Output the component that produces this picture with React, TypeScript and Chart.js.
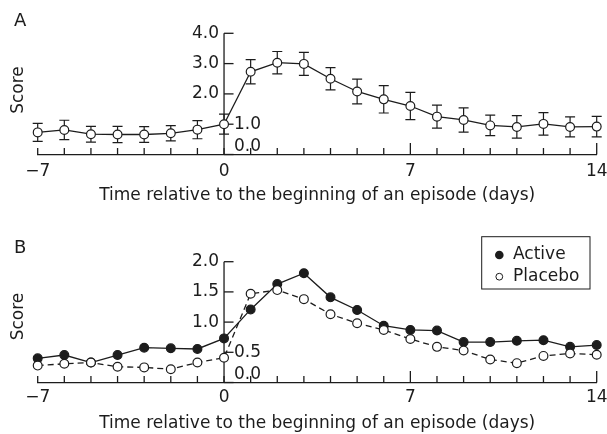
import React, { useEffect, useRef } from "react";
import { Chart, registerables } from "chart.js";

Chart.register(...registerables);

// ---- data ----
const days = [-7, -6, -5, -4, -3, -2, -1, 0, 1, 2, 3, 4, 5, 6, 7, 8, 9, 10, 11, 12, 13, 14];
const scoreA = [0.73, 0.81, 0.67, 0.66, 0.66, 0.7, 0.82, 1.0, 2.73, 3.03, 2.99, 2.5, 2.08, 1.82, 1.6, 1.25, 1.14, 0.96, 0.91, 1.01, 0.91, 0.92];
const errorA = [0.3, 0.32, 0.26, 0.27, 0.26, 0.25, 0.3, 0.33, 0.4, 0.37, 0.38, 0.37, 0.41, 0.45, 0.45, 0.38, 0.4, 0.34, 0.37, 0.37, 0.33, 0.34];
const activeB = [0.4, 0.455, 0.33, 0.455, 0.576, 0.566, 0.555, 0.73, 1.21, 1.63, 1.81, 1.41, 1.2, 0.94, 0.87, 0.86, 0.67, 0.67, 0.69, 0.7, 0.59, 0.62];
const placeboB = [0.28, 0.31, 0.33, 0.26, 0.25, 0.22, 0.33, 0.41, 1.47, 1.53, 1.38, 1.13, 0.98, 0.87, 0.72, 0.59, 0.53, 0.38, 0.32, 0.44, 0.48, 0.46];
const yTicksA = [0, 1, 2, 3, 4];
const yTicksB = [0, 0.5, 1, 1.5, 2];
const xLabelDays = [-7, 0, 7, 14];
const xMajorTickDays = [7, 14];
const xTitle = "Time relative to the beginning of an episode (days)";
const yTitle = "Score";
const seriesNames = ["Active", "Placebo"];

const FONT = '"DejaVu Sans", sans-serif';
const INK = "#1c1c1c";

type PanelCfg = {
  letter: string;
  yMax: number;
  yTicks: number[];
  rightLabelMax: number;
  padTop: number;
  axisHeight: number;
  tickPad: number;
  titleBottom: number;
  scoreY: number;
  letterY: number;
  legend: boolean;
  errors?: number[];
};

function fmtDay(v: number) {
  return v < 0 ? "\u2212" + Math.abs(v) : String(v);
}

function makeDecor(cfg: PanelCfg) {
  return {
    id: "decor" + cfg.letter,
    beforeDatasetsDraw(chart: any) {
      const ctx = chart.ctx;
      const xs = chart.scales.x;
      const ys = chart.scales.y;
      const x0 = xs.getPixelForValue(0);
      const yBottom = ys.getPixelForValue(0);
      ctx.save();
      ctx.strokeStyle = INK;
      ctx.lineWidth = 1.3;
      // y axis line
      ctx.beginPath();
      ctx.moveTo(x0, ys.getPixelForValue(cfg.yMax));
      ctx.lineTo(x0, yBottom);
      ctx.stroke();
      // y ticks
      for (const t of cfg.yTicks) {
        const y = ys.getPixelForValue(t);
        ctx.beginPath();
        ctx.moveTo(x0, y);
        ctx.lineTo(x0 + 9.5, y);
        ctx.stroke();
      }
      // x tick marks (upward)
      for (const d of days) {
        const x = xs.getPixelForValue(d);
        const len = xMajorTickDays.includes(d) ? 11.5 : 6.5;
        ctx.beginPath();
        ctx.moveTo(x, yBottom);
        ctx.lineTo(x, yBottom - len);
        ctx.stroke();
      }
      // error bars
      if (cfg.errors) {
        ctx.lineWidth = 1.2;
        const vals = chart.data.datasets[0].data as number[];
        vals.forEach((v: number, i: number) => {
          const x = xs.getPixelForValue(days[i]);
          const yt = ys.getPixelForValue(v + cfg.errors![i]);
          const yb = ys.getPixelForValue(v - cfg.errors![i]);
          ctx.beginPath();
          ctx.moveTo(x, yt);
          ctx.lineTo(x, yb);
          ctx.moveTo(x - 5, yt);
          ctx.lineTo(x + 5, yt);
          ctx.moveTo(x - 5, yb);
          ctx.lineTo(x + 5, yb);
          ctx.stroke();
        });
      }
      ctx.restore();
    },
    afterDraw(chart: any) {
      const ctx = chart.ctx;
      const xs = chart.scales.x;
      const ys = chart.scales.y;
      const x0 = xs.getPixelForValue(0);
      ctx.save();
      ctx.fillStyle = INK;
      ctx.font = "17px " + FONT;
      ctx.textBaseline = "middle";
      for (const t of cfg.yTicks) {
        let y = ys.getPixelForValue(t);
        const label = t.toFixed(1);
        if (t <= cfg.rightLabelMax) {
          if (t === 0) y -= 8;
          ctx.textAlign = "left";
          ctx.fillText(label, x0 + 10, y);
        } else {
          ctx.textAlign = "right";
          ctx.fillText(label, x0 - 5, y);
        }
      }
      // panel letter
      ctx.textAlign = "left";
      ctx.font = "18px " + FONT;
      ctx.fillText(cfg.letter, 14, cfg.letterY);
      // y title
      ctx.font = "17px " + FONT;
      ctx.save();
      ctx.translate(19, cfg.scoreY);
      ctx.rotate(-Math.PI / 2);
      ctx.textAlign = "center";
      ctx.fillText(yTitle, 0, 0);
      ctx.restore();
      // legend
      if (cfg.legend) {
        ctx.lineWidth = 1;
        ctx.strokeStyle = INK;
        ctx.strokeRect(481.7, 19.7, 108.3, 52.3);
        ctx.beginPath();
        ctx.arc(499.3, 38, 4.3, 0, Math.PI * 2);
        ctx.fill();
        ctx.beginPath();
        ctx.arc(499.3, 59.7, 3.4, 0, Math.PI * 2);
        ctx.fillStyle = "#fff";
        ctx.fill();
        ctx.stroke();
        ctx.fillStyle = INK;
        ctx.textAlign = "left";
        ctx.fillText(seriesNames[0], 513, 38);
        ctx.fillText(seriesNames[1], 513, 59.7);
      }
      ctx.restore();
    },
  };
}

function buildChart(canvas: HTMLCanvasElement, cfg: PanelCfg, datasets: any[]) {
  return new Chart(canvas, {
    type: "line",
    data: { labels: days, datasets },
    options: {
      animation: false,
      responsive: true,
      maintainAspectRatio: false,
      layout: { padding: { top: cfg.padTop, left: 37.7, right: 10.3, bottom: 0 } },
      plugins: { legend: { display: false }, tooltip: { enabled: false } },
      scales: {
        x: {
          type: "linear",
          min: -7,
          max: 14,
          grid: { display: false, drawTicks: false },
          border: { display: true, color: INK, width: 1.3 },
          ticks: {
            stepSize: 1,
            autoSkip: false,
            maxRotation: 0,
            padding: cfg.tickPad,
            color: INK,
            font: { family: FONT, size: 17 },
            callback: (v: any) => (xLabelDays.includes(Number(v)) ? fmtDay(Number(v)) : ""),
          },
          title: {
            display: true,
            text: xTitle,
            color: INK,
            font: { family: FONT, size: 17 },
            padding: { top: 0, bottom: cfg.titleBottom },
          },
          afterFit: (s: any) => {
            s.height = cfg.axisHeight;
            s.paddingLeft = 0;
            s.paddingRight = 0;
          },
        },
        y: { display: false, min: 0, max: cfg.yMax },
      },
    },
    plugins: [makeDecor(cfg)],
  } as any);
}

const cfgA: PanelCfg = {
  letter: "A",
  yMax: 4,
  yTicks: yTicksA,
  rightLabelMax: 1,
  padTop: 33.3,
  axisHeight: 62.5,
  tickPad: 7,
  titleBottom: 11.6,
  scoreY: 90,
  letterY: 21.7,
  legend: false,
  errors: errorA,
};

const cfgB: PanelCfg = {
  letter: "B",
  yMax: 2,
  yTicks: yTicksB,
  rightLabelMax: 0.5,
  padTop: 44.7,
  axisHeight: 51.5,
  tickPad: 5,
  titleBottom: 0.5,
  scoreY: 99.5,
  letterY: 31,
  legend: true,
};

const lineBase = {
  borderColor: INK,
  borderWidth: 1.3,
  pointRadius: 4.4,
  pointBorderColor: INK,
  pointBorderWidth: 1.2,
  tension: 0,
  clip: false,
};

export default function App() {
  const refA = useRef<HTMLCanvasElement>(null);
  const refB = useRef<HTMLCanvasElement>(null);
  useEffect(() => {
    const a = buildChart(refA.current!, cfgA, [
      { ...lineBase, label: yTitle, data: scoreA, pointBackgroundColor: "#fff" },
    ]);
    const b = buildChart(refB.current!, cfgB, [
      { ...lineBase, label: seriesNames[1], data: placeboB, pointBackgroundColor: "#fff", borderDash: [6, 4], order: 0 },
      { ...lineBase, label: seriesNames[0], data: activeB, pointBackgroundColor: INK, order: 1 },
    ]);
    return () => {
      a.destroy();
      b.destroy();
    };
  }, []);
  return (
    <div style={{ position: "fixed", left: 0, top: 0, width: 607, height: 434, background: "#fff" }}>
      <div style={{ position: "absolute", left: 0, top: 0, width: 607, height: 217 }}>
        <canvas ref={refA} />
      </div>
      <div style={{ position: "absolute", left: 0, top: 217, width: 607, height: 217 }}>
        <canvas ref={refB} />
      </div>
    </div>
  );
}
